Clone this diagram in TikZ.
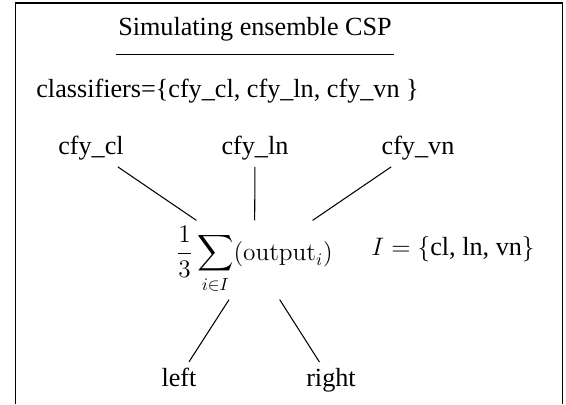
\documentclass[tikz,border=0pt]{standalone}
\usepackage{amsmath}
\usepackage[no-math]{fontspec}
\setmainfont{Liberation Serif}
\usetikzlibrary{positioning}

\begin{document}
\begin{tikzpicture}[lbl/.style={font=\fontsize{14.9}{18}\selectfont}, link/.style={line width=0.6pt}]

\useasboundingbox (0,0) rectangle (11.32,8.08);

% Frame (open at the bottom)
\draw[line width=0.8pt] (0.31,0) -- (0.31,8.02) -- (11.25,8.02) -- (11.25,0);

% Title
\node[lbl, anchor=base, inner xsep=1pt, inner ysep=0.25cm] (title) at (5.1,7.36) {Simulating ensemble CSP};
\draw[link] (title.south west) -- (title.south east);

% Classifier list
\node[lbl, anchor=base west, inner sep=0pt] (clist) at (0.72,6.12) {classifiers=\{cfy\_cl, cfy\_ln, cfy\_vn \}};

% Classifiers
\node[lbl, anchor=base] (cl) at (1.82,4.98) {cfy\_cl};
\node[lbl, anchor=base] (ln) at (5.1,4.98) {cfy\_ln};
\node[lbl, anchor=base] (vn) at (8.36,4.98) {cfy\_vn};

% Ensemble average
\node[font=\Large] (avg) at (5.09,2.88) {$\displaystyle\frac{1}{3}\sum_{i\in I}(\mathrm{output}_i)$};
\node[lbl, anchor=base] (iset) at (9.06,2.98) {$I = \{\text{cl, ln, vn}\}$};

% Outcomes
\node[lbl, anchor=base] (outL) at (3.58,0.35) {left};
\node[lbl, anchor=base] (outR) at (6.62,0.35) {right};

% Links
\draw[link] (cl) -- (avg);
\draw[link] (ln) -- (avg);
\draw[link] (vn) -- (avg);
\draw[link] (avg) -- (outL);
\draw[link] (avg) -- (outR);

\end{tikzpicture}
\end{document}
